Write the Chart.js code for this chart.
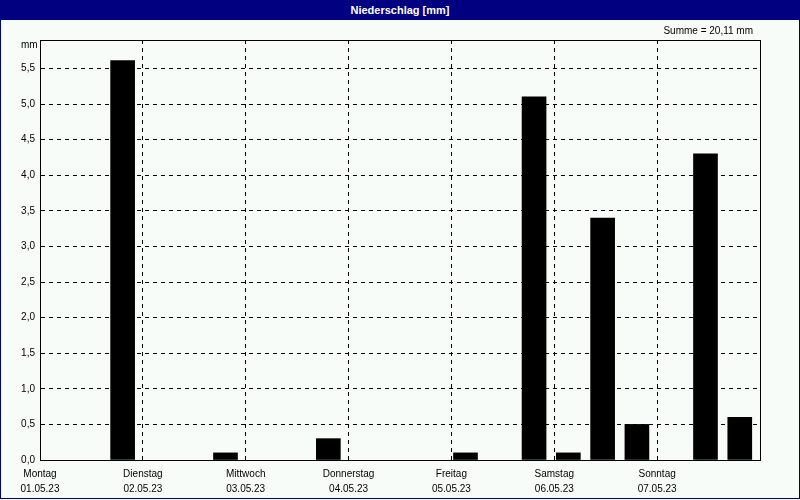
<!DOCTYPE html>
<html>
<head>
<meta charset="utf-8">
<script src="https://cdn.jsdelivr.net/npm/chart.js@4"></script>
<style>
  html, body { margin: 0; padding: 0; background: #f8fcf8; }
  #frame { position: relative; width: 798px; height: 498px; border: 1px solid #000080; border-top: none; background: #f8fcf8; font-family: "Liberation Sans", Arial, sans-serif; }
  #title { position: absolute; left: -1px; top: 0; width: 800px; height: 20px; background: #000080; color: #fff; font-weight: bold; font-size: 11px; line-height: 20px; text-align: center; }
  #unit { position: absolute; left: 20px; top: 39px; font-size: 10px; color: #000; }
  #sum { position: absolute; right: 46px; top: 25px; font-size: 10px; color: #000; }
  canvas { position: absolute; left: -1px; top: 0; }
</style>
</head>
<body>
<div id="frame">
  <canvas id="chart" width="800" height="500"></canvas>
  <div id="title">Niederschlag [mm]</div>
  <div id="unit">mm</div>
  <div id="sum">Summe = 20,11 mm</div>
</div>
<script>
// Niederschlag je 8-Stunden-Intervall, 01.05.23 - 07.05.23
const days = ['Montag', 'Dienstag', 'Mittwoch', 'Donnerstag', 'Freitag', 'Samstag', 'Sonntag']
const dates = ['01.05.23', '02.05.23', '03.05.23', '04.05.23', '05.05.23', '06.05.23', '07.05.23']
const slotsPerDay = 3
const rain = [
  0, 0, 5.61,
  0, 0, 0.1,
  0, 0, 0.3,
  0, 0, 0,
  0.1, 0, 5.1,
  0.1, 3.4, 0.5,
  0, 4.3, 0.6
]
const yMax = 5.9

const fmt = v => v.toFixed(1).replace('.', ',')

const boxPlugin = {
  id: 'box',
  afterDraw(chart) {
    const { ctx, chartArea: a } = chart
    ctx.save()
    ctx.strokeStyle = '#000'
    ctx.lineWidth = 1
    ctx.setLineDash([])
    ctx.strokeRect(Math.round(a.left) + 0.5, Math.round(a.top) + 0.5,
      Math.round(a.right - a.left), Math.round(a.bottom - a.top))
    ctx.restore()
  }
}

const ctx = document.getElementById('chart').getContext('2d')
new Chart(ctx, {
  type: 'bar',
  data: {
    datasets: [{
      data: rain.map((v, i) => ({ x: i + 0.41, y: v || null })),
      backgroundColor: '#000',
      borderWidth: 0,
      barThickness: 24
    }]
  },
  options: {
    responsive: false,
    animation: false,
    layout: { padding: { top: 40, right: 40, left: 0, bottom: 0 } },
    plugins: { legend: { display: false }, tooltip: { enabled: false } },
    scales: {
      x: {
        type: 'linear',
        offset: false,
        min: 0,
        max: days.length * slotsPerDay,
        afterFit: s => { s.height = 40 },
        afterBuildTicks: s => {
          s.ticks = days.map((d, i) => ({ value: i * slotsPerDay }))
        },
        ticks: {
          autoSkip: false,
          maxRotation: 0,
          color: '#000',
          font: { family: 'Liberation Sans', size: 10, lineHeight: 1.5 },
          padding: 7,
          callback: v => {
            const i = Math.round(v / slotsPerDay)
            return days[i] ? [days[i], dates[i]] : ''
          }
        },
        grid: { color: '#000', drawTicks: false, offset: false },
        border: { display: true, color: '#000', dash: [4, 4] }
      },
      y: {
        min: 0,
        max: yMax,
        afterFit: s => { s.width = 40 },
        ticks: {
          stepSize: 0.5,
          includeBounds: false,
          color: '#000',
          font: { family: 'Liberation Sans', size: 10 },
          padding: 5,
          callback: v => fmt(v)
        },
        grid: { color: '#000', drawTicks: false },
        border: { display: true, color: '#000', dash: [4, 4] }
      }
    }
  },
  plugins: [boxPlugin]
})
</script>
</body>
</html>
